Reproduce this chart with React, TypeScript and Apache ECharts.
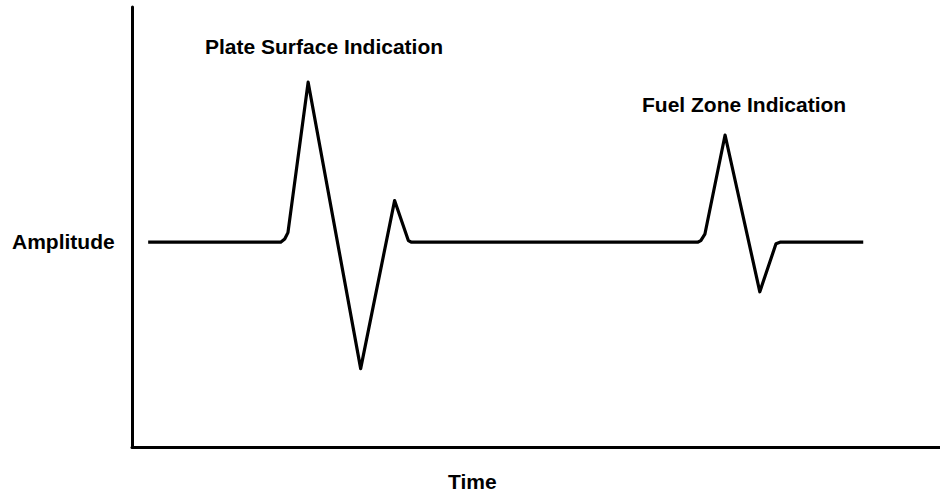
import React, { useEffect, useRef } from "react";
import * as echarts from "echarts";

// Waveform: time (0..100) and amplitude (baseline 0, main peak ~1)
const timeValues = [2, 18.4, 18.9, 19.3, 21.8, 28.3, 32.5, 34.2, 34.6, 70.0, 70.4, 70.9, 73.4, 77.7, 79.7, 80.2, 90.5];
const amplitudeValues = [0, 0, 0.02, 0.06, 1.0, -0.79, 0.26, 0.01, 0, 0, 0.01, 0.05, 0.67, -0.31, -0.01, 0, 0];

const axisNames = { x: "Time", y: "Amplitude" };
const annotations = ["Plate Surface Indication", "Fuel Zone Indication"];

const FONT = "'Liberation Sans', Arial, sans-serif";

export default function App() {
  const ref = useRef<HTMLDivElement>(null);
  useEffect(() => {
    if (!ref.current) return;
    const chart = echarts.init(ref.current, null, { renderer: "svg" });
    const data = timeValues.map((t, i) => [t, amplitudeValues[i]]);
    const textStyle = (text: string) => ({
      text,
      fill: "#000",
      font: `bold 21px ${FONT}`,
    });
    chart.setOption({
      animation: false,
      backgroundColor: "#fff",
      grid: { left: 132, right: 0, top: 7, bottom: 45 },
      xAxis: {
        type: "value",
        min: 0,
        max: 100,
        axisLine: { show: true, onZero: false, lineStyle: { color: "#000", width: 3 } },
        axisTick: { show: false },
        axisLabel: { show: false },
        splitLine: { show: false },
      },
      yAxis: {
        type: "value",
        min: -1.28,
        max: 1.47,
        axisLine: { show: true, onZero: false, lineStyle: { color: "#000", width: 3 } },
        axisTick: { show: false },
        axisLabel: { show: false },
        splitLine: { show: false },
      },
      series: [
        {
          type: "line",
          data,
          showSymbol: false,
          smooth: false,
          lineStyle: { color: "#000", width: 3.2, join: "round" },
        },
      ],
      graphic: [
        { type: "text", left: 205, top: 36, style: textStyle(annotations[0]) },
        { type: "text", left: 642, top: 94, style: textStyle(annotations[1]) },
        { type: "text", left: 12, top: 231, style: textStyle(axisNames.y) },
        { type: "text", left: 448, top: 471, style: textStyle(axisNames.x) },
      ],
    });
    return () => chart.dispose();
  }, []);
  return (
    <div
      ref={ref}
      style={{ position: "absolute", left: 0, top: 0, width: 940, height: 492, background: "#fff" }}
    />
  );
}
